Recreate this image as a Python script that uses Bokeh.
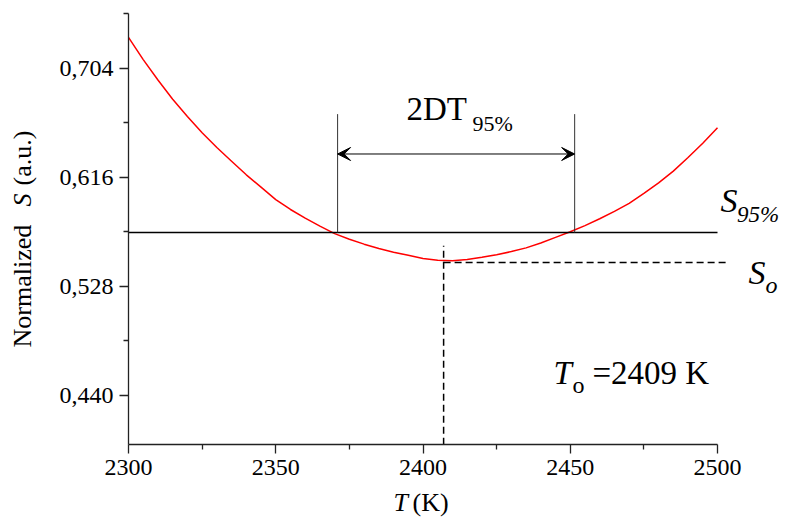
import math
from bokeh.plotting import figure
from bokeh.models import Label, Arrow, VeeHead, FixedTicker, CustomJSTickFormatter, Range1d
from bokeh.embed import file_html
from bokeh.resources import INLINE

# ---- data ----
T = [2300, 2305, 2310, 2315, 2320, 2325, 2330, 2335, 2340, 2345, 2350, 2355,
     2360, 2365, 2370, 2375, 2380, 2385, 2390, 2395, 2400, 2405, 2410, 2415,
     2420, 2425, 2430, 2435, 2440, 2445, 2450, 2455, 2460, 2465, 2470, 2475,
     2480, 2485, 2490, 2495, 2500]
S = [0.729, 0.711, 0.6945, 0.679, 0.665, 0.652, 0.640, 0.629, 0.618, 0.608,
     0.598, 0.590, 0.583, 0.5765, 0.5705, 0.566, 0.562, 0.5585, 0.5555, 0.553,
     0.5505, 0.549, 0.5487, 0.5497, 0.5515, 0.5535, 0.556, 0.559, 0.563, 0.5675,
     0.572, 0.577, 0.5825, 0.5885, 0.595, 0.603, 0.6115, 0.621, 0.632, 0.6435,
     0.656]
S95 = 0.5714          # S_95% level
S0 = 0.5472           # S_o level
T0 = 2407             # temperature of minimum (dashed line)
T_LEFT = 2371         # left crossing
T_RIGHT = 2451.5      # right crossing
BRACKET_TOP = 0.667
ARROW_Y = 0.6348
DASH_V_TOP = 0.5607
DASH_H_END = 2503.4
X_TICKS = [2300, 2350, 2400, 2450, 2500]
X_MINOR = [2325, 2375, 2425, 2475]
Y_TICKS = [0.440, 0.528, 0.616, 0.704]
Y_MINOR = [0.484, 0.572, 0.660, 0.748]
X_BOUNDS = (2300, 2500)
Y_BOUNDS = (0.40, 0.748)

W, H = 780, 518
# pixel geometry of the axes box (canvas pixels)
AX_L, AX_R = 128.0, 717.0      # x of 2300 and 2500
AX_T, AX_B = 13.3, 444.3       # y of 0.748 and 0.40
SX = (AX_R - AX_L) / (X_BOUNDS[1] - X_BOUNDS[0])
SY = (AX_B - AX_T) / (Y_BOUNDS[1] - Y_BOUNDS[0])

def PX(px):
    return X_BOUNDS[0] + (px - AX_L) / SX
def PY(py):
    return Y_BOUNDS[1] - (py - AX_T) / SY

p = figure(width=W, height=H,
           x_range=Range1d(PX(0), PX(W)), y_range=Range1d(PY(H), PY(0)),
           output_backend="svg", toolbar_location=None,
           min_border=0, min_border_left=0, min_border_right=0,
           min_border_top=0, min_border_bottom=0)
p.xgrid.visible = False
p.ygrid.visible = False
p.outline_line_color = None
p.background_fill_color = "white"
p.border_fill_color = "white"

FONT = "'Liberation Serif', 'Times New Roman', serif"

for ax in (p.xaxis[0], p.yaxis[0]):
    ax.axis_line_color = "#222222"
    ax.axis_line_width = 1.3
    ax.major_tick_line_color = "#222222"
    ax.minor_tick_line_color = "#222222"
    ax.major_tick_line_width = 1.3
    ax.minor_tick_line_width = 1.3
    ax.major_tick_in = 0
    ax.major_tick_out = 9
    ax.minor_tick_in = 0
    ax.minor_tick_out = 5
    ax.major_label_text_font = FONT
    ax.major_label_text_font_size = "24px"
    ax.major_label_text_color = "black"
    ax.major_label_standoff = 6

p.xaxis[0].bounds = X_BOUNDS
p.yaxis[0].bounds = Y_BOUNDS
p.xaxis[0].fixed_location = Y_BOUNDS[0]
p.yaxis[0].fixed_location = X_BOUNDS[0]
p.xaxis[0].ticker = FixedTicker(ticks=X_TICKS, minor_ticks=X_MINOR)
p.yaxis[0].ticker = FixedTicker(ticks=Y_TICKS, minor_ticks=Y_MINOR)
p.yaxis[0].formatter = CustomJSTickFormatter(code="return tick.toFixed(3).replace('.', ',');")

# curve
p.line(T, S, line_color="red", line_width=1.5)
# S95 level
p.line([X_BOUNDS[0], X_BOUNDS[1]], [S95, S95], line_color="black", line_width=1.6)
# bracket verticals
p.segment(x0=[T_LEFT, T_RIGHT], y0=[S95, S95], x1=[T_LEFT, T_RIGHT], y1=[BRACKET_TOP, BRACKET_TOP],
          line_color="#333333", line_width=1)
# dashed lines
p.line([T0, T0], [Y_BOUNDS[0], DASH_V_TOP], line_color="black", line_width=1.5, line_dash="7 4")
p.line([T0, DASH_H_END], [S0, S0], line_color="black", line_width=1.5, line_dash="7 4")
# double arrow
p.add_layout(Arrow(x_start=T_LEFT, y_start=ARROW_Y, x_end=T_RIGHT, y_end=ARROW_Y,
                   line_color="black", line_width=1,
                   start=VeeHead(size=13, fill_color="black", line_color="black", line_width=1),
                   end=VeeHead(size=13, fill_color="black", line_color="black", line_width=1)))

def lab(text, px, py, size, style="normal", rotated=False):
    # px, py: reference pixel position of the text baseline start
    shift = 0.34 * size
    if rotated:
        x, y, angle = PX(px - shift), PY(py), math.pi / 2
    else:
        x, y, angle = PX(px), PY(py - shift), 0.0
    p.add_layout(Label(x=x, y=y, text=text, text_font=FONT,
                       text_font_size=f"{size}px", text_font_style=style,
                       text_color="black", text_align="left", text_baseline="alphabetic",
                       angle=angle))

# 2DT95%
lab("2DT", 406, 120, 33)
lab("95%", 472, 130, 22)
# S95%
lab("S", 720, 211.7, 34, "italic")
lab("95%", 736.5, 221.7, 23, "italic")
# So
lab("S", 748, 283.3, 34, "italic")
lab("o", 765, 293, 24, "italic")
# To = 2409 K
lab("T", 553, 383.3, 33, "italic")
lab("o", 572, 393, 24)
lab("=2409 K", 592, 383.3, 33)
# x title
lab("T", 393, 511, 26, "italic")
lab("(K)", 412, 511, 26)
# y title (rotated)
lab("Normalized", 31, 347, 26, rotated=True)
lab("S", 31, 206, 26, "italic", rotated=True)
lab("(a.u.)", 31, 185, 26, rotated=True)

open("out.html", "w").write(file_html(p, INLINE))
